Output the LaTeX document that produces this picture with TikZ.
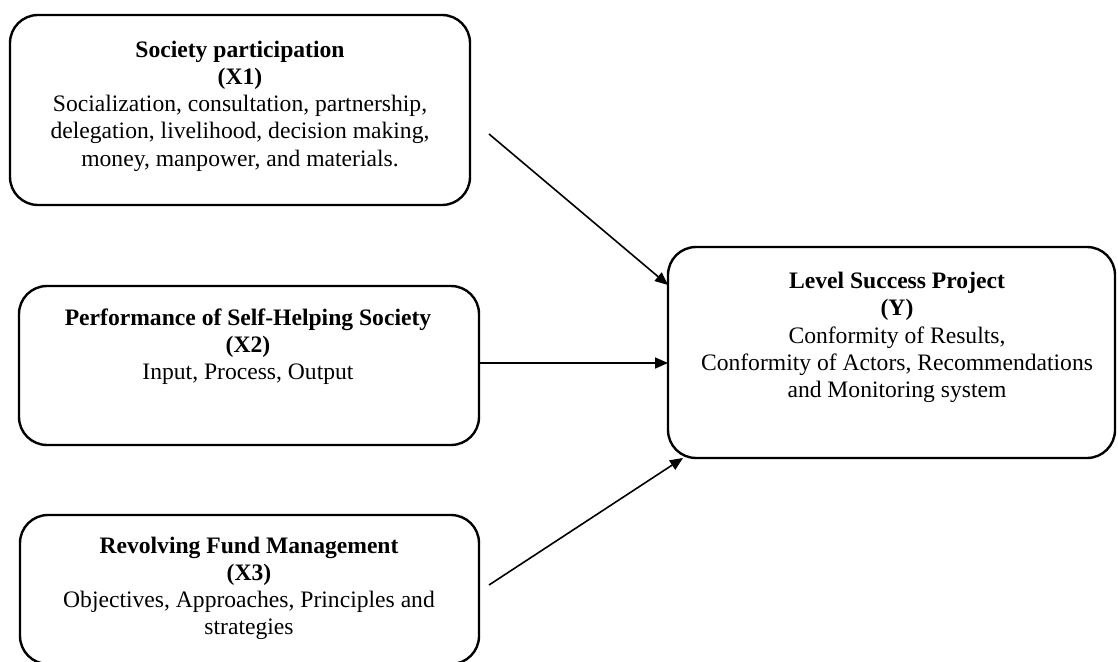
\documentclass[tikz,border=0pt]{standalone}
\usepackage{fontspec}
\setmainfont{Liberation Serif}
\usetikzlibrary{arrows.meta}
\begin{document}
\begin{tikzpicture}[x=0.5pt,y=-0.5pt,
  box/.style={draw, line width=1.2pt, rounded corners=14pt, inner sep=0pt, outer sep=0pt},
  txt/.style={align=center, inner sep=0pt, font=\fontsize{11.8}{13.6}\selectfont},
  arr/.style={line width=0.8pt, -{Triangle[length=6.5pt,width=5.5pt]}}]
\useasboundingbox (0,0) rectangle (1118,662);
\clip (0,0) rectangle (1118,662);
% boxes
\node[box, minimum width=230pt, minimum height=95pt] (x1) at (240,110) {};
\node[box, minimum width=230pt, minimum height=79.5pt] (x2) at (249,365.5) {};
\node[box, minimum width=229.5pt, minimum height=74.5pt] (x3) at (249.5,589.5) {};
\node[box, minimum width=223.5pt, minimum height=105.5pt] (y) at (891.5,352.5) {};
% texts
\node[txt] (t1) at (240,106) {\textbf{Society participation}\\\textbf{(X1)}\\Socialization, consultation, partnership,\\delegation, livelihood, decision making,\\money, manpower, and materials.};
\node[txt] (t2) at (248,347) {\textbf{Performance of Self-Helping Society}\\\textbf{(X2)}\\Input, Process, Output};
\node[txt] (t3) at (249,588.5) {\textbf{Revolving Fund Management}\\\textbf{(X3)}\\Objectives, Approaches, Principles and\\strategies};
\node[txt] (ty) at (897,337.5) {\textbf{Level Success Project}\\\textbf{(Y)}\\Conformity of Results,\\Conformity of Actors, Recommendations\\and Monitoring system};
% connectors
\coordinate (s1) at (489,134);
\coordinate (e1) at (668,285);
\coordinate (s3) at (489,585);
\coordinate (e3) at (683,458);
\draw[arr] (s1) -- (e1);
\draw[arr] (x2.east |- 0,363) -- (y.west |- 0,363);
\draw[arr] (s3) -- (e3);
\end{tikzpicture}
\end{document}
